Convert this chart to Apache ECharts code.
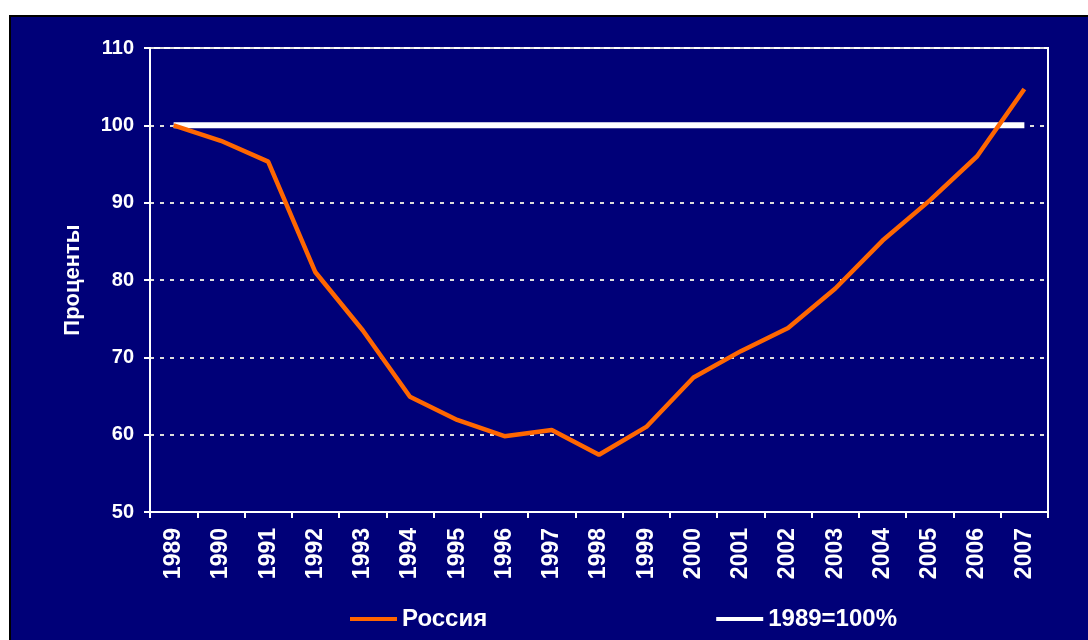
<!DOCTYPE html>
<html>
<head>
<meta charset="utf-8">
<script src="https://cdn.jsdelivr.net/npm/echarts@6/dist/echarts.min.js"></script>
<style>
  html, body { margin: 0; padding: 0; background: #fff; width: 1088px; height: 640px; overflow: hidden; }
  #frame { position: absolute; left: 9px; top: 15px; right: 0; bottom: 0;
           border-left: 2px solid #000; border-top: 2px solid #000; background: #000078; }
  #chart { position: absolute; left: 0; top: 0; width: 1088px; height: 640px; }
</style>
</head>
<body>
<div id="frame"></div>
<div id="chart"></div>
<script>
// index 1989 = 100%
const years = ["1989", "1990", "1991", "1992", "1993", "1994", "1995", "1996", "1997", "1998",
  "1999", "2000", "2001", "2002", "2003", "2004", "2005", "2006", "2007"];
const russia = [100, 98, 95.3, 81, 73.5, 64.9, 61.9, 59.8, 60.6, 57.4,
  61, 67.4, 70.8, 73.8, 78.9, 85.1, 90.3, 96, 104.7];
const base = [100, 100, 100, 100, 100, 100, 100, 100, 100, 100,
  100, 100, 100, 100, 100, 100, 100, 100, 100];
const yTicks = { min: 50, max: 110, step: 10 };

const font = "'Liberation Sans', Arial, sans-serif";
const chart = echarts.init(document.getElementById("chart"), null, { renderer: "canvas" });

chart.setOption({
  animation: false,
  backgroundColor: "transparent",
  grid: {
    left: 150, top: 48, right: 40, bottom: 128,
    show: true, borderColor: "#fff", borderWidth: 2, backgroundColor: "transparent"
  },
  legend: {
    left: 345, top: 602,
    itemWidth: 47, itemHeight: 4, itemGap: 229,
    icon: "rect",
    textStyle: { color: "#fff", fontFamily: font, fontWeight: "bold", fontSize: 24 },
    data: ["Россия", "1989=100%"]
  },
  xAxis: {
    type: "category",
    data: years,
    boundaryGap: true,
    axisLine: { lineStyle: { color: "#fff", width: 2 } },
    axisTick: { show: true, interval: 0, length: 6, lineStyle: { color: "#fff", width: 2 } },
    axisLabel: {
      interval: 0, rotate: 90, margin: 16, color: "#fff",
      fontFamily: font, fontWeight: "bold", fontSize: 23
    }
  },
  yAxis: {
    type: "value",
    min: yTicks.min, max: yTicks.max, interval: yTicks.step,
    name: "Проценты",
    nameLocation: "middle",
    nameGap: 66,
    nameRotate: 90,
    nameTextStyle: { color: "#fff", fontFamily: font, fontWeight: "bold", fontSize: 22 },
    axisLine: { show: true, lineStyle: { color: "#fff", width: 2 } },
    axisTick: { show: true, length: 6, lineStyle: { color: "#fff", width: 2 } },
    axisLabel: { margin: 16, color: "#fff", fontFamily: font, fontWeight: "bold", fontSize: 20 },
    splitLine: { show: true, lineStyle: { color: "#ddd", width: 2, type: [4, 6] } }
  },
  series: [
    {
      name: "Россия",
      type: "line",
      data: russia,
      z: 4,
      showSymbol: false,
      symbol: "none",
      itemStyle: { color: "#ff6600" },
      lineStyle: { color: "#ff6600", width: 4.5 }
    },
    {
      name: "1989=100%",
      type: "line",
      data: base,
      z: 3,
      showSymbol: false,
      symbol: "none",
      itemStyle: { color: "#fff" },
      lineStyle: { color: "#fff", width: 6 }
    }
  ]
});
</script>
</body>
</html>
